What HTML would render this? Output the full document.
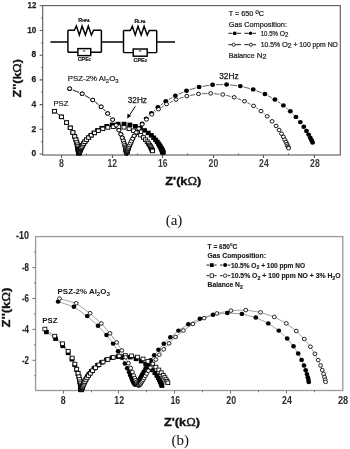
<!DOCTYPE html>
<html><head><meta charset="utf-8">
<style>
html,body{margin:0;padding:0;background:#fff;}
body{width:350px;height:449px;overflow:hidden;}
svg{display:block;will-change:transform;filter:blur(0.3px);}
text{font-family:"Liberation Sans",sans-serif;}
.ser{font-family:"Liberation Serif",serif;}
</style></head>
<body>
<svg width="350" height="449" viewBox="0 0 350 449">
<!-- ================= CHART A ================= -->
<g stroke="#5a5a5a" stroke-width="1.1" fill="none">
  <rect x="42.7" y="5.6" width="297.6" height="149.4"/>
  <path d="M39.6 154H42.8M39.6 129.3H42.8M39.6 104.6H42.8M39.6 79.9H42.8M39.6 55.2H42.8M39.6 30.5H42.8M39.6 5.8H42.8"/>
  <path d="M41.3 141.65H42.8M41.3 116.95H42.8M41.3 92.25H42.8M41.3 67.55H42.8M41.3 42.85H42.8M41.3 18.15H42.8"/>
  <path d="M61.5 155V158M112.5 155V158M162.5 155V158M213.5 155V158M263.5 155V158M314.5 155V158"/>
  <path d="M86.5 155V153.5M137.5 155V153.5M187.5 155V153.5M238.5 155V153.5M288.5 155V153.5"/>
</g>
<g font-size="9.7" font-weight="bold" fill="#222" stroke="#222" stroke-width="0.25" text-anchor="end">
  <text x="36.3" y="8.05" textLength="8.8" lengthAdjust="spacingAndGlyphs">12</text>
  <text x="36.3" y="32.75" textLength="9" lengthAdjust="spacingAndGlyphs">10</text>
  <text x="36.3" y="57.45" textLength="4.7" lengthAdjust="spacingAndGlyphs">8</text>
  <text x="36.3" y="82.15" textLength="4.7" lengthAdjust="spacingAndGlyphs">6</text>
  <text x="36.3" y="106.85" textLength="4.7" lengthAdjust="spacingAndGlyphs">4</text>
  <text x="36.3" y="131.55" textLength="4.7" lengthAdjust="spacingAndGlyphs">2</text>
  <text x="36.3" y="156.25" textLength="4.7" lengthAdjust="spacingAndGlyphs">0</text>
</g>
<g font-size="10" font-weight="bold" fill="#3a3a3a" text-anchor="middle">
  <text x="61.4" y="166.9" textLength="4.9" lengthAdjust="spacingAndGlyphs">8</text>
  <text x="112.2" y="166.9" textLength="9.6" lengthAdjust="spacingAndGlyphs">12</text>
  <text x="162.8" y="166.9" textLength="9.6" lengthAdjust="spacingAndGlyphs">16</text>
  <text x="213.4" y="166.9" textLength="9.6" lengthAdjust="spacingAndGlyphs">20</text>
  <text x="263.9" y="166.9" textLength="9.6" lengthAdjust="spacingAndGlyphs">24</text>
  <text x="314.9" y="166.9" textLength="9.6" lengthAdjust="spacingAndGlyphs">28</text>
</g>
<text x="165.3" y="184.6" font-size="11.2" font-weight="bold" fill="#111" stroke="#111" stroke-width="0.35" textLength="36" lengthAdjust="spacingAndGlyphs">Z'(k<tspan font-weight="normal">Ω</tspan>)</text>
<text transform="translate(20.7,97.4) rotate(-90)" font-size="11.8" font-weight="bold" fill="#111" stroke="#111" stroke-width="0.35" textLength="38.3" lengthAdjust="spacingAndGlyphs">Z''(k<tspan font-weight="normal">Ω</tspan>)</text>
<text class="ser" x="174" y="225.2" font-size="15" text-anchor="middle" fill="#111">(a)</text>

<!-- legend a -->
<g font-size="7.2" fill="#1a1a1a" stroke="#1a1a1a" stroke-width="0.22">
  <text x="228.7" y="15.9">T = 650 <tspan font-size="6.6" dy="-1.6">o</tspan><tspan dy="1.6">C</tspan></text>
  <text x="228.7" y="27" textLength="58.3" lengthAdjust="spacingAndGlyphs">Gas Composition:</text>
  <text x="260.7" y="36.2" textLength="27.6" lengthAdjust="spacingAndGlyphs">10.5% <tspan font-size="8">O</tspan><tspan dy="1.2">2</tspan></text>
  <text x="260.7" y="47" textLength="77.2" lengthAdjust="spacingAndGlyphs">10.5% <tspan font-size="8">O</tspan><tspan dy="1.2">2</tspan><tspan dy="-1.2"> + 100 ppm NO</tspan></text>
  <text x="228.7" y="57.6">Balance <tspan font-size="8">N</tspan><tspan dy="1.2">2</tspan></text>
</g>
<g stroke="#000" stroke-width="0.9" fill="none">
  <path d="M228.4 33.3H232.6M236.8 33.3H241M244.4 33.3H248.6M252.4 33.3H256M228.4 44.7H231.9M235.5 44.7H241M244.4 44.7H248.8M253 44.7H256"/>
</g>
<rect x="233.1" y="31.7" width="3.3" height="3.3" fill="#000"/>
<circle cx="250.5" cy="33.3" r="1.7" fill="#000"/>
<circle cx="233.7" cy="44.7" r="1.55" fill="#fff" stroke="#000" stroke-width="0.85"/>
<circle cx="250.9" cy="44.7" r="1.55" fill="#fff" stroke="#000" stroke-width="0.85"/>

<!-- circuit -->
<g stroke="#000" stroke-width="1.45" fill="none">
  <path d="M50.5 41.9H67.9M67.9 30.3V52.2M67.9 30.3H74.3L76.4 26L79.3 35L82.1 26L85.4 35L88.3 26L91.4 35L93.6 30.3H101.4M67.9 52.2H77.9M90.7 52.2H101.4M101.4 30.3V52.2"/>
  <rect x="77.9" y="48.6" width="12.8" height="7"/>
  <path d="M101.4 41.9H123.5M123.5 30.5V52.6M123.5 30.5H130.3L132.3 26.2L135.2 35L138 26.2L141.2 35L144.1 26.2L147.2 35L149.3 30.5H156.7M123.5 52.6H133.2M147.2 52.6H156.7M156.7 30.5V52.6M156.7 41.9H175"/>
  <rect x="133.2" y="49" width="14" height="7.2"/>
</g>
<g font-size="4" font-weight="bold" fill="#111" text-anchor="middle">
  <text x="84.3" y="51.6">n</text>
  <text x="140.2" y="52.2">n</text>
</g>
<g font-size="5.4" font-weight="bold" fill="#111" stroke="#111" stroke-width="0.2" text-anchor="middle">
  <text x="84" y="22">R<tspan font-size="3.8">HFA</tspan></text>
  <text x="140" y="23">R<tspan font-size="3.8">LFA</tspan></text>
  <text x="84.3" y="61.4">CPE<tspan font-size="3.8">1</tspan></text>
  <text x="140.2" y="62.1">CPE<tspan font-size="3.8">2</tspan></text>
</g>

<!-- annotations a -->
<g font-size="7.7" fill="#111" stroke="#111" stroke-width="0.15">
  <text x="67.8" y="81.4" textLength="50.8" lengthAdjust="spacingAndGlyphs">PSZ-2% Al<tspan font-size="5.8" dy="1.8">2</tspan><tspan dy="-1.8">O</tspan><tspan font-size="5.8" dy="1.8">3</tspan></text>
  <text x="53.4" y="105.9">PSZ</text>
</g>
<g font-size="8.2" fill="#111" stroke="#111" stroke-width="0.25">
  <text x="127.8" y="103.4" textLength="19.1" lengthAdjust="spacingAndGlyphs">32Hz</text>
  <text x="219.2" y="78.6" textLength="19.4" lengthAdjust="spacingAndGlyphs">32Hz</text>
</g>
<path d="M135.4 106.3L128.8 116.2" stroke="#000" stroke-width="1"/>
<path d="M127.2 118.5L127.5 113.6L131.1 116Z" fill="#000"/>

<!-- ================= CHART B ================= -->
<g stroke="#9a9a9a" stroke-width="1.3" fill="none">
  <rect x="35.6" y="236.6" width="307.2" height="153.9"/>
</g>
<g stroke="#707070" stroke-width="1" fill="none">
  <path d="M32.5 267.6H35.5M32.5 298.5H35.5M32.5 329.4H35.5M32.5 360.3H35.5"/>
  <path d="M34 252.15H35.5M34 283.05H35.5M34 313.95H35.5M34 344.85H35.5M34 375.75H35.5"/>
  <path d="M63.5 390.6V393.6M118.5 390.6V393.6M174.5 390.6V393.6M230.5 390.6V393.6M286.5 390.6V393.6"/>
  <path d="M91.5 390.6V392.3M146.5 390.6V392.3M202.5 390.6V392.3M258.5 390.6V392.3M314.5 390.6V392.3"/>
</g>
<g font-size="10" font-weight="bold" fill="#222" stroke="#222" stroke-width="0.1" text-anchor="end">
  <text x="29" y="239.4" textLength="12.9" lengthAdjust="spacingAndGlyphs">-10</text>
  <text x="29" y="270.9" textLength="7" lengthAdjust="spacingAndGlyphs">-8</text>
  <text x="29" y="301.8" textLength="7" lengthAdjust="spacingAndGlyphs">-6</text>
  <text x="29" y="332.7" textLength="7" lengthAdjust="spacingAndGlyphs">-4</text>
  <text x="29" y="363.6" textLength="7" lengthAdjust="spacingAndGlyphs">-2</text>
</g>
<g font-size="10" font-weight="bold" fill="#2a2a2a" text-anchor="middle">
  <text x="63.1" y="404" textLength="4.9" lengthAdjust="spacingAndGlyphs">8</text>
  <text x="119.2" y="404" textLength="9.8" lengthAdjust="spacingAndGlyphs">12</text>
  <text x="175.3" y="404" textLength="9.8" lengthAdjust="spacingAndGlyphs">16</text>
  <text x="231.2" y="404" textLength="9.8" lengthAdjust="spacingAndGlyphs">20</text>
  <text x="287" y="404" textLength="9.8" lengthAdjust="spacingAndGlyphs">24</text>
  <text x="343.1" y="404" textLength="10.2" lengthAdjust="spacingAndGlyphs">28</text>
</g>
<text x="164" y="426.4" font-size="11.2" font-weight="bold" fill="#111" stroke="#111" stroke-width="0.35" textLength="36" lengthAdjust="spacingAndGlyphs">Z'(k<tspan font-weight="normal">Ω</tspan>)</text>
<text transform="translate(10.4,327.4) rotate(-90)" font-size="11.2" font-weight="bold" fill="#111" stroke="#111" stroke-width="0.35" textLength="39.8" lengthAdjust="spacingAndGlyphs">Z''(k<tspan font-weight="normal">Ω</tspan>)</text>
<text class="ser" x="180.3" y="444.5" font-size="15" text-anchor="middle" fill="#111">(b)</text>

<!-- legend b -->
<g font-size="7.4" font-weight="bold" fill="#1a1a1a" stroke="#1a1a1a" stroke-width="0.15" lengthAdjust="spacingAndGlyphs">
  <text x="207.6" y="249.3" textLength="29.7" lengthAdjust="spacingAndGlyphs">T = 650°C</text>
  <text x="207.6" y="258.1" textLength="58.3" lengthAdjust="spacingAndGlyphs">Gas Composition:</text>
  <text x="230.9" y="267.7" textLength="74.2" lengthAdjust="spacingAndGlyphs">10.5%  O<tspan font-size="5.8" dy="1.3">2</tspan><tspan dy="-1.3"> + 100 ppm NO</tspan></text>
  <text x="230.9" y="278.3" textLength="109.7" lengthAdjust="spacingAndGlyphs">10.5%  O<tspan font-size="5.8" dy="1.3">2</tspan><tspan dy="-1.3"> + 100 ppm NO + 3%  H</tspan><tspan font-size="5.8" dy="1.3">2</tspan><tspan dy="-1.3">O</tspan></text>
  <text x="207.6" y="287.3" textLength="35.3" lengthAdjust="spacingAndGlyphs">Balance N<tspan font-size="5.8" dy="1.3">2</tspan></text>
</g>
<g stroke="#000" stroke-width="0.9" fill="none">
  <path d="M206.5 265.1H209.4M214.2 265.1H216.6M220 265.1H222.6M227.6 265.1H230.3M206.5 275.7H209.4M214.2 275.7H216.6M220 275.7H222.6M227.6 275.7H230.3"/>
</g>
<rect x="209.9" y="263.2" width="3.8" height="3.8" fill="#000"/>
<circle cx="225.1" cy="265.1" r="2" fill="#000"/>
<rect x="210.1" y="273.9" width="3.4" height="3.4" fill="#fff" stroke="#000" stroke-width="0.75"/>
<circle cx="225.1" cy="275.7" r="1.75" fill="#fff" stroke="#000" stroke-width="0.75"/>

<g font-size="7.9" font-weight="bold" fill="#111">
  <text x="57.6" y="293.6" textLength="52.3" lengthAdjust="spacingAndGlyphs">PSZ-2% Al<tspan font-size="6.2" dy="2.2">2</tspan><tspan dy="-2.2">O</tspan><tspan font-size="6.2" dy="2.2">3</tspan></text>
  <text x="42.2" y="323.4">PSZ</text>
</g>

<!-- ================= DATA ================= -->
<path d="M57.1 113.3L58.8 114.7M63.7 119.4L64.3 120.0" fill="none" stroke="#3a3a3a" stroke-width="0.8"/>
<path d="M57.1 113.3L58.8 114.7M63.7 119.4L64.3 120.1" fill="none" stroke="#3a3a3a" stroke-width="0.8"/>
<path d="M72.8 90.0L79.0 92.5M85.1 95.5L89.7 98.3M95.3 102.1L98.4 104.6M103.5 109.1L105.3 111.0M109.8 116.0L110.5 116.9M148.5 116.1L149.1 115.6M153.9 110.8L155.3 109.5M160.6 105.2L163.1 103.3M168.8 99.6L172.5 97.4M178.5 94.3L183.4 92.1M189.8 89.7L195.8 87.9M202.4 86.4L209.3 85.3M216.0 84.7L223.2 84.6M230.0 84.9L237.0 85.7M243.6 86.9L249.9 88.6M256.4 90.6L261.7 92.8M267.8 95.6L271.9 97.9M277.7 101.4L280.6 103.4M286.0 107.6L287.7 109.1M292.7 113.7L293.5 114.5" fill="none" stroke="#3a3a3a" stroke-width="0.8"/>
<path d="M72.8 89.9L79.0 92.4M85.1 95.4L89.8 98.2M95.4 102.1L98.5 104.6M103.5 109.2L105.3 111.0M109.8 116.1L110.5 117.0M154.5 112.3L155.8 111.3M161.4 107.4L163.7 105.9M169.6 102.7L172.9 101.1M179.2 98.6L183.5 97.2M190.1 95.5L195.2 94.6M201.9 93.8L207.3 93.5M214.1 93.7L219.4 94.2M226.1 95.3L230.9 96.5M237.4 98.5L241.4 100.0M247.5 102.8L250.5 104.3M256.3 107.8L258.2 109.2M263.6 113.3L264.6 114.1" fill="none" stroke="#3a3a3a" stroke-width="0.8"/>
<g fill="#000"><rect x="52.0" y="109.0" width="4.9" height="4.4"/><rect x="58.9" y="114.7" width="4.9" height="4.4"/><rect x="64.1" y="120.4" width="4.9" height="4.4"/><rect x="67.8" y="125.6" width="4.9" height="4.4"/><rect x="70.4" y="130.3" width="4.9" height="4.4"/><rect x="72.2" y="134.2" width="4.9" height="4.4"/><rect x="73.4" y="137.5" width="4.9" height="4.4"/><rect x="74.3" y="140.2" width="4.9" height="4.4"/><rect x="74.8" y="142.5" width="4.9" height="4.4"/><rect x="75.2" y="144.3" width="4.9" height="4.4"/><rect x="75.5" y="145.7" width="4.9" height="4.4"/><rect x="75.7" y="146.9" width="4.9" height="4.4"/><rect x="75.8" y="147.8" width="4.9" height="4.4"/><rect x="75.9" y="148.6" width="4.9" height="4.4"/><rect x="76.0" y="149.1" width="4.9" height="4.4"/><rect x="76.1" y="149.6" width="4.9" height="4.4"/><rect x="76.1" y="150.0" width="4.9" height="4.4"/><rect x="76.2" y="150.2" width="4.9" height="4.4"/><rect x="76.2" y="150.4" width="4.9" height="4.4"/><rect x="76.2" y="150.6" width="4.9" height="4.4"/><rect x="76.3" y="150.6" width="4.9" height="4.4"/><rect x="76.3" y="150.7" width="4.9" height="4.4"/><rect x="76.4" y="150.7" width="4.9" height="4.4"/><rect x="76.4" y="150.6" width="4.9" height="4.4"/><rect x="76.5" y="150.5" width="4.9" height="4.4"/><rect x="76.6" y="150.3" width="4.9" height="4.4"/><rect x="76.7" y="150.1" width="4.9" height="4.4"/><rect x="76.8" y="149.9" width="4.9" height="4.4"/><rect x="76.9" y="149.5" width="4.9" height="4.4"/><rect x="77.1" y="149.1" width="4.9" height="4.4"/><rect x="77.3" y="148.7" width="4.9" height="4.4"/><rect x="77.6" y="148.1" width="4.9" height="4.4"/><rect x="77.9" y="147.4" width="4.9" height="4.4"/><rect x="78.3" y="146.5" width="4.9" height="4.4"/><rect x="78.8" y="145.6" width="4.9" height="4.4"/><rect x="79.4" y="144.4" width="4.9" height="4.4"/><rect x="80.2" y="143.1" width="4.9" height="4.4"/><rect x="81.2" y="141.5" width="4.9" height="4.4"/><rect x="82.4" y="139.7" width="4.9" height="4.4"/><rect x="84.0" y="137.7" width="4.9" height="4.4"/><rect x="86.0" y="135.5" width="4.9" height="4.4"/><rect x="88.4" y="133.2" width="4.9" height="4.4"/><rect x="91.5" y="130.7" width="4.9" height="4.4"/><rect x="95.1" y="128.2" width="4.9" height="4.4"/><rect x="99.4" y="125.9" width="4.9" height="4.4"/><rect x="104.3" y="124.0" width="4.9" height="4.4"/><rect x="109.8" y="122.6" width="4.9" height="4.4"/><rect x="115.6" y="121.8" width="4.9" height="4.4"/><rect x="121.6" y="121.8" width="4.9" height="4.4"/><rect x="127.4" y="122.6" width="4.9" height="4.4"/><rect x="132.9" y="124.0" width="4.9" height="4.4"/><rect x="137.8" y="125.9" width="4.9" height="4.4"/><rect x="142.1" y="128.2" width="4.9" height="4.4"/><rect x="145.8" y="130.7" width="4.9" height="4.4"/><rect x="148.8" y="133.1" width="4.9" height="4.4"/><rect x="151.2" y="135.5" width="4.9" height="4.4"/><rect x="153.2" y="137.7" width="4.9" height="4.4"/><rect x="154.8" y="139.7" width="4.9" height="4.4"/><rect x="156.1" y="141.5" width="4.9" height="4.4"/><rect x="157.0" y="143.1" width="4.9" height="4.4"/><rect x="157.8" y="144.4" width="4.9" height="4.4"/><rect x="158.5" y="145.6" width="4.9" height="4.4"/><rect x="159.0" y="146.6" width="4.9" height="4.4"/><rect x="159.4" y="147.4" width="4.9" height="4.4"/><rect x="159.7" y="148.1" width="4.9" height="4.4"/><rect x="159.9" y="148.7" width="4.9" height="4.4"/><rect x="160.1" y="149.2" width="4.9" height="4.4"/><rect x="160.3" y="149.7" width="4.9" height="4.4"/><rect x="160.5" y="150.0" width="4.9" height="4.4"/><rect x="160.6" y="150.3" width="4.9" height="4.4"/></g>
<g fill="#000"><ellipse cx="69.6" cy="88.7" rx="2.45" ry="2.20"/><ellipse cx="82.1" cy="93.8" rx="2.45" ry="2.20"/><ellipse cx="92.7" cy="100.0" rx="2.45" ry="2.20"/><ellipse cx="101.1" cy="106.7" rx="2.45" ry="2.20"/><ellipse cx="107.6" cy="113.4" rx="2.45" ry="2.20"/><ellipse cx="112.6" cy="119.6" rx="2.45" ry="2.20"/><ellipse cx="116.2" cy="125.2" rx="2.45" ry="2.20"/><ellipse cx="118.9" cy="130.0" rx="2.45" ry="2.20"/><ellipse cx="120.9" cy="134.2" rx="2.45" ry="2.20"/><ellipse cx="122.4" cy="137.7" rx="2.45" ry="2.20"/><ellipse cx="123.4" cy="140.6" rx="2.45" ry="2.20"/><ellipse cx="124.2" cy="143.1" rx="2.45" ry="2.20"/><ellipse cx="124.8" cy="145.1" rx="2.45" ry="2.20"/><ellipse cx="125.2" cy="146.7" rx="2.45" ry="2.20"/><ellipse cx="125.6" cy="148.0" rx="2.45" ry="2.20"/><ellipse cx="125.8" cy="149.1" rx="2.45" ry="2.20"/><ellipse cx="126.0" cy="150.0" rx="2.45" ry="2.20"/><ellipse cx="126.2" cy="150.7" rx="2.45" ry="2.20"/><ellipse cx="126.3" cy="151.3" rx="2.45" ry="2.20"/><ellipse cx="126.4" cy="151.8" rx="2.45" ry="2.20"/><ellipse cx="126.5" cy="152.2" rx="2.45" ry="2.20"/><ellipse cx="126.5" cy="152.5" rx="2.45" ry="2.20"/><ellipse cx="126.6" cy="152.7" rx="2.45" ry="2.20"/><ellipse cx="126.6" cy="152.9" rx="2.45" ry="2.20"/><ellipse cx="126.7" cy="153.0" rx="2.45" ry="2.20"/><ellipse cx="126.7" cy="153.1" rx="2.45" ry="2.20"/><ellipse cx="126.8" cy="153.1" rx="2.45" ry="2.20"/><ellipse cx="126.8" cy="153.1" rx="2.45" ry="2.20"/><ellipse cx="126.8" cy="153.1" rx="2.45" ry="2.20"/><ellipse cx="126.9" cy="153.1" rx="2.45" ry="2.20"/><ellipse cx="126.9" cy="153.0" rx="2.45" ry="2.20"/><ellipse cx="127.0" cy="152.9" rx="2.45" ry="2.20"/><ellipse cx="127.1" cy="152.7" rx="2.45" ry="2.20"/><ellipse cx="127.1" cy="152.5" rx="2.45" ry="2.20"/><ellipse cx="127.2" cy="152.2" rx="2.45" ry="2.20"/><ellipse cx="127.3" cy="151.9" rx="2.45" ry="2.20"/><ellipse cx="127.5" cy="151.5" rx="2.45" ry="2.20"/><ellipse cx="127.7" cy="151.0" rx="2.45" ry="2.20"/><ellipse cx="127.9" cy="150.4" rx="2.45" ry="2.20"/><ellipse cx="128.1" cy="149.7" rx="2.45" ry="2.20"/><ellipse cx="128.4" cy="148.8" rx="2.45" ry="2.20"/><ellipse cx="128.8" cy="147.7" rx="2.45" ry="2.20"/><ellipse cx="129.3" cy="146.5" rx="2.45" ry="2.20"/><ellipse cx="129.9" cy="145.0" rx="2.45" ry="2.20"/><ellipse cx="130.7" cy="143.2" rx="2.45" ry="2.20"/><ellipse cx="131.6" cy="141.1" rx="2.45" ry="2.20"/><ellipse cx="132.9" cy="138.5" rx="2.45" ry="2.20"/><ellipse cx="134.4" cy="135.6" rx="2.45" ry="2.20"/><ellipse cx="136.4" cy="132.1" rx="2.45" ry="2.20"/><ellipse cx="138.9" cy="128.2" rx="2.45" ry="2.20"/><ellipse cx="142.1" cy="123.7" rx="2.45" ry="2.20"/><ellipse cx="146.2" cy="118.6" rx="2.45" ry="2.20"/><ellipse cx="151.4" cy="113.1" rx="2.45" ry="2.20"/><ellipse cx="157.9" cy="107.2" rx="2.45" ry="2.20"/><ellipse cx="165.8" cy="101.3" rx="2.45" ry="2.20"/><ellipse cx="175.4" cy="95.7" rx="2.45" ry="2.20"/><ellipse cx="186.5" cy="90.7" rx="2.45" ry="2.20"/><ellipse cx="199.1" cy="87.0" rx="2.45" ry="2.20"/><ellipse cx="212.6" cy="84.8" rx="2.45" ry="2.20"/><ellipse cx="226.6" cy="84.5" rx="2.45" ry="2.20"/><ellipse cx="240.3" cy="86.1" rx="2.45" ry="2.20"/><ellipse cx="253.2" cy="89.4" rx="2.45" ry="2.20"/><ellipse cx="264.9" cy="94.0" rx="2.45" ry="2.20"/><ellipse cx="274.9" cy="99.5" rx="2.45" ry="2.20"/><ellipse cx="283.4" cy="105.4" rx="2.45" ry="2.20"/><ellipse cx="290.3" cy="111.3" rx="2.45" ry="2.20"/><ellipse cx="295.9" cy="116.9" rx="2.45" ry="2.20"/><ellipse cx="300.3" cy="122.1" rx="2.45" ry="2.20"/><ellipse cx="303.8" cy="126.8" rx="2.45" ry="2.20"/><ellipse cx="306.5" cy="131.0" rx="2.45" ry="2.20"/><ellipse cx="308.6" cy="134.6" rx="2.45" ry="2.20"/><ellipse cx="310.3" cy="137.7" rx="2.45" ry="2.20"/><ellipse cx="311.6" cy="140.3" rx="2.45" ry="2.20"/><ellipse cx="312.6" cy="142.6" rx="2.45" ry="2.20"/></g>
<g fill="#fff" stroke="#000" stroke-width="0.9"><rect x="52.4" y="109.4" width="4.0" height="3.5"/><rect x="59.4" y="115.1" width="4.0" height="3.5"/><rect x="64.6" y="120.8" width="4.0" height="3.5"/><rect x="68.3" y="126.1" width="4.0" height="3.5"/><rect x="70.9" y="130.7" width="4.0" height="3.5"/><rect x="72.7" y="134.7" width="4.0" height="3.5"/><rect x="73.9" y="138.0" width="4.0" height="3.5"/><rect x="74.7" y="140.7" width="4.0" height="3.5"/><rect x="75.3" y="142.9" width="4.0" height="3.5"/><rect x="75.7" y="144.7" width="4.0" height="3.5"/><rect x="76.0" y="146.2" width="4.0" height="3.5"/><rect x="76.2" y="147.4" width="4.0" height="3.5"/><rect x="76.3" y="148.3" width="4.0" height="3.5"/><rect x="76.4" y="149.0" width="4.0" height="3.5"/><rect x="76.5" y="149.6" width="4.0" height="3.5"/><rect x="76.5" y="150.1" width="4.0" height="3.5"/><rect x="76.6" y="150.5" width="4.0" height="3.5"/><rect x="76.6" y="150.7" width="4.0" height="3.5"/><rect x="76.7" y="151.0" width="4.0" height="3.5"/><rect x="76.7" y="151.1" width="4.0" height="3.5"/><rect x="76.7" y="151.2" width="4.0" height="3.5"/><rect x="76.8" y="151.2" width="4.0" height="3.5"/><rect x="76.8" y="151.3" width="4.0" height="3.5"/><rect x="76.8" y="151.2" width="4.0" height="3.5"/><rect x="76.9" y="151.2" width="4.0" height="3.5"/><rect x="76.9" y="151.0" width="4.0" height="3.5"/><rect x="77.0" y="150.9" width="4.0" height="3.5"/><rect x="77.1" y="150.7" width="4.0" height="3.5"/><rect x="77.2" y="150.4" width="4.0" height="3.5"/><rect x="77.3" y="150.1" width="4.0" height="3.5"/><rect x="77.5" y="149.7" width="4.0" height="3.5"/><rect x="77.7" y="149.2" width="4.0" height="3.5"/><rect x="77.9" y="148.6" width="4.0" height="3.5"/><rect x="78.3" y="147.9" width="4.0" height="3.5"/><rect x="78.6" y="147.0" width="4.0" height="3.5"/><rect x="79.1" y="146.0" width="4.0" height="3.5"/><rect x="79.8" y="144.8" width="4.0" height="3.5"/><rect x="80.6" y="143.4" width="4.0" height="3.5"/><rect x="81.6" y="141.8" width="4.0" height="3.5"/><rect x="82.9" y="140.0" width="4.0" height="3.5"/><rect x="84.6" y="138.0" width="4.0" height="3.5"/><rect x="86.7" y="135.8" width="4.0" height="3.5"/><rect x="89.3" y="133.5" width="4.0" height="3.5"/><rect x="92.5" y="131.2" width="4.0" height="3.5"/><rect x="96.3" y="129.0" width="4.0" height="3.5"/><rect x="100.8" y="127.1" width="4.0" height="3.5"/><rect x="105.8" y="125.7" width="4.0" height="3.5"/><rect x="111.2" y="125.0" width="4.0" height="3.5"/><rect x="116.7" y="124.9" width="4.0" height="3.5"/><rect x="122.0" y="125.6" width="4.0" height="3.5"/><rect x="127.1" y="127.0" width="4.0" height="3.5"/><rect x="131.6" y="128.9" width="4.0" height="3.5"/><rect x="135.5" y="131.0" width="4.0" height="3.5"/><rect x="138.7" y="133.4" width="4.0" height="3.5"/><rect x="141.4" y="135.7" width="4.0" height="3.5"/><rect x="143.5" y="137.9" width="4.0" height="3.5"/><rect x="145.2" y="139.9" width="4.0" height="3.5"/><rect x="146.5" y="141.7" width="4.0" height="3.5"/><rect x="147.6" y="143.3" width="4.0" height="3.5"/><rect x="148.4" y="144.7" width="4.0" height="3.5"/><rect x="149.0" y="145.9" width="4.0" height="3.5"/><rect x="149.6" y="147.0" width="4.0" height="3.5"/><rect x="150.0" y="147.8" width="4.0" height="3.5"/><rect x="150.3" y="148.6" width="4.0" height="3.5"/><rect x="150.5" y="149.2" width="4.0" height="3.5"/></g>
<g fill="#fff" stroke="#000" stroke-width="0.9"><ellipse cx="69.6" cy="88.6" rx="2.00" ry="1.75"/><ellipse cx="82.2" cy="93.7" rx="2.00" ry="1.75"/><ellipse cx="92.7" cy="100.0" rx="2.00" ry="1.75"/><ellipse cx="101.2" cy="106.8" rx="2.00" ry="1.75"/><ellipse cx="107.7" cy="113.5" rx="2.00" ry="1.75"/><ellipse cx="112.6" cy="119.7" rx="2.00" ry="1.75"/><ellipse cx="116.2" cy="125.3" rx="2.00" ry="1.75"/><ellipse cx="118.9" cy="130.2" rx="2.00" ry="1.75"/><ellipse cx="120.8" cy="134.3" rx="2.00" ry="1.75"/><ellipse cx="122.2" cy="137.8" rx="2.00" ry="1.75"/><ellipse cx="123.3" cy="140.8" rx="2.00" ry="1.75"/><ellipse cx="124.0" cy="143.2" rx="2.00" ry="1.75"/><ellipse cx="124.6" cy="145.2" rx="2.00" ry="1.75"/><ellipse cx="125.0" cy="146.8" rx="2.00" ry="1.75"/><ellipse cx="125.3" cy="148.1" rx="2.00" ry="1.75"/><ellipse cx="125.6" cy="149.2" rx="2.00" ry="1.75"/><ellipse cx="125.8" cy="150.1" rx="2.00" ry="1.75"/><ellipse cx="125.9" cy="150.8" rx="2.00" ry="1.75"/><ellipse cx="126.0" cy="151.4" rx="2.00" ry="1.75"/><ellipse cx="126.1" cy="151.8" rx="2.00" ry="1.75"/><ellipse cx="126.2" cy="152.2" rx="2.00" ry="1.75"/><ellipse cx="126.3" cy="152.5" rx="2.00" ry="1.75"/><ellipse cx="126.3" cy="152.7" rx="2.00" ry="1.75"/><ellipse cx="126.4" cy="152.9" rx="2.00" ry="1.75"/><ellipse cx="126.4" cy="153.1" rx="2.00" ry="1.75"/><ellipse cx="126.4" cy="153.2" rx="2.00" ry="1.75"/><ellipse cx="126.5" cy="153.2" rx="2.00" ry="1.75"/><ellipse cx="126.5" cy="153.2" rx="2.00" ry="1.75"/><ellipse cx="126.5" cy="153.2" rx="2.00" ry="1.75"/><ellipse cx="126.6" cy="153.2" rx="2.00" ry="1.75"/><ellipse cx="126.6" cy="153.1" rx="2.00" ry="1.75"/><ellipse cx="126.6" cy="153.0" rx="2.00" ry="1.75"/><ellipse cx="126.7" cy="152.9" rx="2.00" ry="1.75"/><ellipse cx="126.8" cy="152.7" rx="2.00" ry="1.75"/><ellipse cx="126.8" cy="152.5" rx="2.00" ry="1.75"/><ellipse cx="126.9" cy="152.3" rx="2.00" ry="1.75"/><ellipse cx="127.0" cy="151.9" rx="2.00" ry="1.75"/><ellipse cx="127.2" cy="151.5" rx="2.00" ry="1.75"/><ellipse cx="127.3" cy="151.0" rx="2.00" ry="1.75"/><ellipse cx="127.5" cy="150.4" rx="2.00" ry="1.75"/><ellipse cx="127.8" cy="149.7" rx="2.00" ry="1.75"/><ellipse cx="128.1" cy="148.9" rx="2.00" ry="1.75"/><ellipse cx="128.5" cy="147.8" rx="2.00" ry="1.75"/><ellipse cx="129.0" cy="146.6" rx="2.00" ry="1.75"/><ellipse cx="129.6" cy="145.1" rx="2.00" ry="1.75"/><ellipse cx="130.4" cy="143.3" rx="2.00" ry="1.75"/><ellipse cx="131.3" cy="141.2" rx="2.00" ry="1.75"/><ellipse cx="132.6" cy="138.7" rx="2.00" ry="1.75"/><ellipse cx="134.2" cy="135.8" rx="2.00" ry="1.75"/><ellipse cx="136.2" cy="132.4" rx="2.00" ry="1.75"/><ellipse cx="138.8" cy="128.6" rx="2.00" ry="1.75"/><ellipse cx="142.2" cy="124.3" rx="2.00" ry="1.75"/><ellipse cx="146.5" cy="119.5" rx="2.00" ry="1.75"/><ellipse cx="151.8" cy="114.4" rx="2.00" ry="1.75"/><ellipse cx="158.5" cy="109.2" rx="2.00" ry="1.75"/><ellipse cx="166.5" cy="104.1" rx="2.00" ry="1.75"/><ellipse cx="176.0" cy="99.6" rx="2.00" ry="1.75"/><ellipse cx="186.8" cy="96.1" rx="2.00" ry="1.75"/><ellipse cx="198.5" cy="93.9" rx="2.00" ry="1.75"/><ellipse cx="210.7" cy="93.4" rx="2.00" ry="1.75"/><ellipse cx="222.8" cy="94.5" rx="2.00" ry="1.75"/><ellipse cx="234.2" cy="97.3" rx="2.00" ry="1.75"/><ellipse cx="244.5" cy="101.2" rx="2.00" ry="1.75"/><ellipse cx="253.5" cy="105.9" rx="2.00" ry="1.75"/><ellipse cx="261.0" cy="111.1" rx="2.00" ry="1.75"/><ellipse cx="267.2" cy="116.3" rx="2.00" ry="1.75"/><ellipse cx="272.1" cy="121.3" rx="2.00" ry="1.75"/><ellipse cx="276.1" cy="125.9" rx="2.00" ry="1.75"/><ellipse cx="279.1" cy="130.0" rx="2.00" ry="1.75"/><ellipse cx="281.5" cy="133.7" rx="2.00" ry="1.75"/><ellipse cx="283.4" cy="136.9" rx="2.00" ry="1.75"/><ellipse cx="284.8" cy="139.7" rx="2.00" ry="1.75"/><ellipse cx="286.0" cy="142.0" rx="2.00" ry="1.75"/><ellipse cx="286.9" cy="144.0" rx="2.00" ry="1.75"/><ellipse cx="287.6" cy="145.7" rx="2.00" ry="1.75"/><ellipse cx="288.2" cy="147.1" rx="2.00" ry="1.75"/><ellipse cx="288.6" cy="148.2" rx="2.00" ry="1.75"/></g>
<polyline points="46.3,332.0 55.6,338.7 62.8,345.9 68.1,352.9 72.0,359.3 74.7,364.9 76.6,369.7 77.9,373.7 78.9,377.0 79.5,379.7 80.0,381.9 80.3,383.7 80.5,385.1 80.7,386.2 80.8,387.2 80.9,387.9 81.0,388.5 81.0,388.9 81.1,389.3 81.1,389.5 81.2,389.7 81.2,389.8 81.3,389.9 81.3,389.9 81.4,389.8 81.4,389.7 81.5,389.5 81.6,389.3 81.7,389.0 81.8,388.6 81.9,388.2 82.1,387.6 82.4,386.9 82.7,386.0 83.1,385.0 83.6,383.8 84.2,382.4 85.0,380.7 86.0,378.8 87.4,376.5 89.1,374.0 91.3,371.3 94.0,368.3 97.4,365.3 101.6,362.4 106.4,359.8 111.9,357.8 117.9,356.7 124.2,356.5 130.3,357.2 136.1,358.9 141.2,361.2 145.7,364.0 149.4,367.0 152.4,370.0 154.8,372.9 156.7,375.5 158.2,377.9 159.4,379.9 160.3,381.7 161.0,383.3 161.5,384.6 161.9,385.7" fill="none" stroke="#8a8a8a" stroke-width="0.8"/>
<polyline points="44.8,329.0 54.8,336.0 62.4,343.7 68.1,351.2 72.1,358.0 74.9,364.0 76.8,369.0 78.1,373.2 78.9,376.7 79.5,379.5 79.9,381.8 80.2,383.6 80.4,385.1 80.6,386.2 80.7,387.2 80.8,387.9 80.8,388.5 80.9,388.9 80.9,389.2 81.0,389.5 81.0,389.6 81.1,389.7 81.1,389.7 81.2,389.7 81.2,389.6 81.3,389.5 81.4,389.3 81.5,389.0 81.7,388.7 81.8,388.2 82.0,387.7 82.3,387.1 82.6,386.3 83.0,385.4 83.5,384.3 84.1,383.1 84.8,381.6 85.8,379.9 87.0,377.9 88.5,375.7 90.3,373.2 92.6,370.5 95.5,367.7 98.9,364.8 103.1,362.0 107.8,359.4 113.2,357.4 119.1,356.0 125.3,355.5 131.5,355.8 137.5,357.0 143.0,358.9 148.0,361.4 152.2,364.1 155.8,367.0 158.8,369.9 161.3,372.6 163.2,375.2 164.8,377.4 166.0,379.5 167.0,381.2 167.8,382.8" fill="none" stroke="#8a8a8a" stroke-width="0.8"/>
<polyline points="58.1,301.6 73.9,306.8 87.2,316.1 98.0,325.7 106.5,335.0 113.1,343.6 118.1,351.2 122.0,357.8 124.9,363.5 127.2,368.2 129.0,372.1 130.3,375.3 131.4,377.9 132.3,379.9 133.0,381.5 133.6,382.8 134.2,383.6 134.7,384.2 135.1,384.5 135.6,384.6 136.0,384.4 136.5,384.0 137.0,383.4 137.6,382.6 138.2,381.5 139.0,380.2 139.9,378.6 141.0,376.6 142.2,374.3 143.8,371.5 145.6,368.3 147.9,364.6 150.7,360.3 154.2,355.3 158.5,349.8 163.8,343.8 170.4,337.3 178.5,330.6 188.3,324.3 199.9,318.7 213.0,314.8 227.3,313.0 241.9,313.9 255.8,317.5 268.3,323.4 278.8,330.6 287.2,338.5 293.5,346.3 298.2,353.5 301.6,359.9 304.0,365.5 305.7,370.2 306.9,374.1 307.8,377.3 308.4,379.9 308.8,382.1" fill="none" stroke="#8a8a8a" stroke-width="0.8"/>
<polyline points="59.5,298.6 76.2,303.3 90.1,313.2 101.3,323.5 110.0,333.3 116.7,342.4 121.8,350.4 125.6,357.3 128.5,363.2 130.7,368.1 132.4,372.1 133.7,375.4 134.8,378.1 135.6,380.2 136.3,381.9 136.8,383.2 137.3,384.2 137.7,384.8 138.2,385.2 138.6,385.4 139.0,385.4 139.4,385.2 139.9,384.8 140.4,384.2 140.9,383.4 141.5,382.4 142.3,381.2 143.1,379.8 144.1,378.1 145.3,376.0 146.7,373.6 148.4,370.8 150.4,367.6 152.8,363.8 155.8,359.6 159.3,354.7 163.7,349.3 169.0,343.4 175.5,337.0 183.4,330.5 192.9,324.0 204.1,318.1 216.9,313.4 231.0,310.6 245.8,310.1 260.5,312.3 274.3,316.9 286.3,323.4 296.3,331.0 304.3,339.0 310.4,346.7 314.9,353.8 318.2,360.1 320.6,365.5 322.3,370.1 323.6,373.9 324.5,377.1 325.1,379.7 325.6,381.9" fill="none" stroke="#8a8a8a" stroke-width="0.8"/>
<g fill="#000"><rect x="44.0" y="329.8" width="4.7" height="4.4"/><rect x="53.2" y="336.5" width="4.7" height="4.4"/><rect x="60.4" y="343.7" width="4.7" height="4.4"/><rect x="65.8" y="350.7" width="4.7" height="4.4"/><rect x="69.6" y="357.1" width="4.7" height="4.4"/><rect x="72.4" y="362.7" width="4.7" height="4.4"/><rect x="74.3" y="367.5" width="4.7" height="4.4"/><rect x="75.6" y="371.5" width="4.7" height="4.4"/><rect x="76.5" y="374.8" width="4.7" height="4.4"/><rect x="77.2" y="377.5" width="4.7" height="4.4"/><rect x="77.6" y="379.7" width="4.7" height="4.4"/><rect x="77.9" y="381.5" width="4.7" height="4.4"/><rect x="78.2" y="382.9" width="4.7" height="4.4"/><rect x="78.3" y="384.0" width="4.7" height="4.4"/><rect x="78.5" y="385.0" width="4.7" height="4.4"/><rect x="78.5" y="385.7" width="4.7" height="4.4"/><rect x="78.6" y="386.3" width="4.7" height="4.4"/><rect x="78.7" y="386.7" width="4.7" height="4.4"/><rect x="78.7" y="387.1" width="4.7" height="4.4"/><rect x="78.8" y="387.3" width="4.7" height="4.4"/><rect x="78.8" y="387.5" width="4.7" height="4.4"/><rect x="78.9" y="387.6" width="4.7" height="4.4"/><rect x="78.9" y="387.7" width="4.7" height="4.4"/><rect x="78.9" y="387.7" width="4.7" height="4.4"/><rect x="79.0" y="387.6" width="4.7" height="4.4"/><rect x="79.1" y="387.5" width="4.7" height="4.4"/><rect x="79.1" y="387.3" width="4.7" height="4.4"/><rect x="79.2" y="387.1" width="4.7" height="4.4"/><rect x="79.3" y="386.8" width="4.7" height="4.4"/><rect x="79.4" y="386.4" width="4.7" height="4.4"/><rect x="79.6" y="386.0" width="4.7" height="4.4"/><rect x="79.8" y="385.4" width="4.7" height="4.4"/><rect x="80.0" y="384.7" width="4.7" height="4.4"/><rect x="80.3" y="383.8" width="4.7" height="4.4"/><rect x="80.7" y="382.8" width="4.7" height="4.4"/><rect x="81.2" y="381.6" width="4.7" height="4.4"/><rect x="81.8" y="380.2" width="4.7" height="4.4"/><rect x="82.6" y="378.5" width="4.7" height="4.4"/><rect x="83.7" y="376.6" width="4.7" height="4.4"/><rect x="85.0" y="374.3" width="4.7" height="4.4"/><rect x="86.7" y="371.8" width="4.7" height="4.4"/><rect x="88.9" y="369.1" width="4.7" height="4.4"/><rect x="91.7" y="366.1" width="4.7" height="4.4"/><rect x="95.1" y="363.1" width="4.7" height="4.4"/><rect x="99.2" y="360.2" width="4.7" height="4.4"/><rect x="104.1" y="357.6" width="4.7" height="4.4"/><rect x="109.6" y="355.6" width="4.7" height="4.4"/><rect x="115.6" y="354.5" width="4.7" height="4.4"/><rect x="121.8" y="354.3" width="4.7" height="4.4"/><rect x="127.9" y="355.0" width="4.7" height="4.4"/><rect x="133.7" y="356.7" width="4.7" height="4.4"/><rect x="138.9" y="359.0" width="4.7" height="4.4"/><rect x="143.3" y="361.8" width="4.7" height="4.4"/><rect x="147.1" y="364.8" width="4.7" height="4.4"/><rect x="150.1" y="367.8" width="4.7" height="4.4"/><rect x="152.5" y="370.7" width="4.7" height="4.4"/><rect x="154.4" y="373.3" width="4.7" height="4.4"/><rect x="155.9" y="375.7" width="4.7" height="4.4"/><rect x="157.0" y="377.7" width="4.7" height="4.4"/><rect x="157.9" y="379.5" width="4.7" height="4.4"/><rect x="158.6" y="381.1" width="4.7" height="4.4"/><rect x="159.2" y="382.4" width="4.7" height="4.4"/><rect x="159.6" y="383.5" width="4.7" height="4.4"/></g>
<g fill="#000"><ellipse cx="58.1" cy="301.6" rx="2.35" ry="2.20"/><ellipse cx="73.9" cy="306.8" rx="2.35" ry="2.20"/><ellipse cx="87.2" cy="316.1" rx="2.35" ry="2.20"/><ellipse cx="98.0" cy="325.7" rx="2.35" ry="2.20"/><ellipse cx="106.5" cy="335.0" rx="2.35" ry="2.20"/><ellipse cx="113.1" cy="343.6" rx="2.35" ry="2.20"/><ellipse cx="118.1" cy="351.2" rx="2.35" ry="2.20"/><ellipse cx="122.0" cy="357.8" rx="2.35" ry="2.20"/><ellipse cx="124.9" cy="363.5" rx="2.35" ry="2.20"/><ellipse cx="127.2" cy="368.2" rx="2.35" ry="2.20"/><ellipse cx="129.0" cy="372.1" rx="2.35" ry="2.20"/><ellipse cx="130.3" cy="375.3" rx="2.35" ry="2.20"/><ellipse cx="131.4" cy="377.9" rx="2.35" ry="2.20"/><ellipse cx="132.3" cy="379.9" rx="2.35" ry="2.20"/><ellipse cx="133.0" cy="381.5" rx="2.35" ry="2.20"/><ellipse cx="133.6" cy="382.8" rx="2.35" ry="2.20"/><ellipse cx="134.2" cy="383.6" rx="2.35" ry="2.20"/><ellipse cx="134.7" cy="384.2" rx="2.35" ry="2.20"/><ellipse cx="135.1" cy="384.5" rx="2.35" ry="2.20"/><ellipse cx="135.6" cy="384.6" rx="2.35" ry="2.20"/><ellipse cx="136.0" cy="384.4" rx="2.35" ry="2.20"/><ellipse cx="136.5" cy="384.0" rx="2.35" ry="2.20"/><ellipse cx="137.0" cy="383.4" rx="2.35" ry="2.20"/><ellipse cx="137.6" cy="382.6" rx="2.35" ry="2.20"/><ellipse cx="138.2" cy="381.5" rx="2.35" ry="2.20"/><ellipse cx="139.0" cy="380.2" rx="2.35" ry="2.20"/><ellipse cx="139.9" cy="378.6" rx="2.35" ry="2.20"/><ellipse cx="141.0" cy="376.6" rx="2.35" ry="2.20"/><ellipse cx="142.2" cy="374.3" rx="2.35" ry="2.20"/><ellipse cx="143.8" cy="371.5" rx="2.35" ry="2.20"/><ellipse cx="145.6" cy="368.3" rx="2.35" ry="2.20"/><ellipse cx="147.9" cy="364.6" rx="2.35" ry="2.20"/><ellipse cx="150.7" cy="360.3" rx="2.35" ry="2.20"/><ellipse cx="154.2" cy="355.3" rx="2.35" ry="2.20"/><ellipse cx="158.5" cy="349.8" rx="2.35" ry="2.20"/><ellipse cx="163.8" cy="343.8" rx="2.35" ry="2.20"/><ellipse cx="170.4" cy="337.3" rx="2.35" ry="2.20"/><ellipse cx="178.5" cy="330.6" rx="2.35" ry="2.20"/><ellipse cx="188.3" cy="324.3" rx="2.35" ry="2.20"/><ellipse cx="199.9" cy="318.7" rx="2.35" ry="2.20"/><ellipse cx="213.0" cy="314.8" rx="2.35" ry="2.20"/><ellipse cx="227.3" cy="313.0" rx="2.35" ry="2.20"/><ellipse cx="241.9" cy="313.9" rx="2.35" ry="2.20"/><ellipse cx="255.8" cy="317.5" rx="2.35" ry="2.20"/><ellipse cx="268.3" cy="323.4" rx="2.35" ry="2.20"/><ellipse cx="278.8" cy="330.6" rx="2.35" ry="2.20"/><ellipse cx="287.2" cy="338.5" rx="2.35" ry="2.20"/><ellipse cx="293.5" cy="346.3" rx="2.35" ry="2.20"/><ellipse cx="298.2" cy="353.5" rx="2.35" ry="2.20"/><ellipse cx="301.6" cy="359.9" rx="2.35" ry="2.20"/><ellipse cx="304.0" cy="365.5" rx="2.35" ry="2.20"/><ellipse cx="305.7" cy="370.2" rx="2.35" ry="2.20"/><ellipse cx="306.9" cy="374.1" rx="2.35" ry="2.20"/><ellipse cx="307.8" cy="377.3" rx="2.35" ry="2.20"/><ellipse cx="308.4" cy="379.9" rx="2.35" ry="2.20"/><ellipse cx="308.8" cy="382.1" rx="2.35" ry="2.20"/></g>
<g fill="#fff" stroke="#000" stroke-width="0.85"><rect x="42.9" y="327.2" width="3.9" height="3.6"/><rect x="52.8" y="334.3" width="3.9" height="3.6"/><rect x="60.5" y="341.9" width="3.9" height="3.6"/><rect x="66.2" y="349.4" width="3.9" height="3.6"/><rect x="70.2" y="356.2" width="3.9" height="3.6"/><rect x="72.9" y="362.2" width="3.9" height="3.6"/><rect x="74.8" y="367.3" width="3.9" height="3.6"/><rect x="76.1" y="371.5" width="3.9" height="3.6"/><rect x="77.0" y="374.9" width="3.9" height="3.6"/><rect x="77.6" y="377.7" width="3.9" height="3.6"/><rect x="78.0" y="380.0" width="3.9" height="3.6"/><rect x="78.3" y="381.8" width="3.9" height="3.6"/><rect x="78.5" y="383.3" width="3.9" height="3.6"/><rect x="78.6" y="384.5" width="3.9" height="3.6"/><rect x="78.8" y="385.4" width="3.9" height="3.6"/><rect x="78.8" y="386.1" width="3.9" height="3.6"/><rect x="78.9" y="386.7" width="3.9" height="3.6"/><rect x="79.0" y="387.1" width="3.9" height="3.6"/><rect x="79.0" y="387.4" width="3.9" height="3.6"/><rect x="79.0" y="387.7" width="3.9" height="3.6"/><rect x="79.1" y="387.8" width="3.9" height="3.6"/><rect x="79.1" y="387.9" width="3.9" height="3.6"/><rect x="79.2" y="388.0" width="3.9" height="3.6"/><rect x="79.2" y="387.9" width="3.9" height="3.6"/><rect x="79.3" y="387.9" width="3.9" height="3.6"/><rect x="79.4" y="387.7" width="3.9" height="3.6"/><rect x="79.5" y="387.5" width="3.9" height="3.6"/><rect x="79.6" y="387.2" width="3.9" height="3.6"/><rect x="79.7" y="386.9" width="3.9" height="3.6"/><rect x="79.9" y="386.5" width="3.9" height="3.6"/><rect x="80.1" y="385.9" width="3.9" height="3.6"/><rect x="80.4" y="385.3" width="3.9" height="3.6"/><rect x="80.7" y="384.5" width="3.9" height="3.6"/><rect x="81.1" y="383.6" width="3.9" height="3.6"/><rect x="81.6" y="382.5" width="3.9" height="3.6"/><rect x="82.2" y="381.3" width="3.9" height="3.6"/><rect x="82.9" y="379.8" width="3.9" height="3.6"/><rect x="83.9" y="378.1" width="3.9" height="3.6"/><rect x="85.0" y="376.1" width="3.9" height="3.6"/><rect x="86.5" y="373.9" width="3.9" height="3.6"/><rect x="88.4" y="371.5" width="3.9" height="3.6"/><rect x="90.7" y="368.8" width="3.9" height="3.6"/><rect x="93.5" y="365.9" width="3.9" height="3.6"/><rect x="97.0" y="363.0" width="3.9" height="3.6"/><rect x="101.1" y="360.2" width="3.9" height="3.6"/><rect x="105.9" y="357.7" width="3.9" height="3.6"/><rect x="111.3" y="355.6" width="3.9" height="3.6"/><rect x="117.2" y="354.2" width="3.9" height="3.6"/><rect x="123.4" y="353.7" width="3.9" height="3.6"/><rect x="129.6" y="354.0" width="3.9" height="3.6"/><rect x="135.5" y="355.2" width="3.9" height="3.6"/><rect x="141.1" y="357.1" width="3.9" height="3.6"/><rect x="146.0" y="359.6" width="3.9" height="3.6"/><rect x="150.3" y="362.4" width="3.9" height="3.6"/><rect x="153.9" y="365.3" width="3.9" height="3.6"/><rect x="156.9" y="368.1" width="3.9" height="3.6"/><rect x="159.3" y="370.9" width="3.9" height="3.6"/><rect x="161.3" y="373.4" width="3.9" height="3.6"/><rect x="162.9" y="375.7" width="3.9" height="3.6"/><rect x="164.1" y="377.7" width="3.9" height="3.6"/><rect x="165.1" y="379.5" width="3.9" height="3.6"/><rect x="165.9" y="381.0" width="3.9" height="3.6"/></g>
<g fill="#fff" stroke="#000" stroke-width="0.85"><ellipse cx="59.5" cy="298.6" rx="1.93" ry="1.78"/><ellipse cx="76.2" cy="303.3" rx="1.93" ry="1.78"/><ellipse cx="90.1" cy="313.2" rx="1.93" ry="1.78"/><ellipse cx="101.3" cy="323.5" rx="1.93" ry="1.78"/><ellipse cx="110.0" cy="333.3" rx="1.93" ry="1.78"/><ellipse cx="116.7" cy="342.4" rx="1.93" ry="1.78"/><ellipse cx="121.8" cy="350.4" rx="1.93" ry="1.78"/><ellipse cx="125.6" cy="357.3" rx="1.93" ry="1.78"/><ellipse cx="128.5" cy="363.2" rx="1.93" ry="1.78"/><ellipse cx="130.7" cy="368.1" rx="1.93" ry="1.78"/><ellipse cx="132.4" cy="372.1" rx="1.93" ry="1.78"/><ellipse cx="133.7" cy="375.4" rx="1.93" ry="1.78"/><ellipse cx="134.8" cy="378.1" rx="1.93" ry="1.78"/><ellipse cx="135.6" cy="380.2" rx="1.93" ry="1.78"/><ellipse cx="136.3" cy="381.9" rx="1.93" ry="1.78"/><ellipse cx="136.8" cy="383.2" rx="1.93" ry="1.78"/><ellipse cx="137.3" cy="384.2" rx="1.93" ry="1.78"/><ellipse cx="137.7" cy="384.8" rx="1.93" ry="1.78"/><ellipse cx="138.2" cy="385.2" rx="1.93" ry="1.78"/><ellipse cx="138.6" cy="385.4" rx="1.93" ry="1.78"/><ellipse cx="139.0" cy="385.4" rx="1.93" ry="1.78"/><ellipse cx="139.4" cy="385.2" rx="1.93" ry="1.78"/><ellipse cx="139.9" cy="384.8" rx="1.93" ry="1.78"/><ellipse cx="140.4" cy="384.2" rx="1.93" ry="1.78"/><ellipse cx="140.9" cy="383.4" rx="1.93" ry="1.78"/><ellipse cx="141.5" cy="382.4" rx="1.93" ry="1.78"/><ellipse cx="142.3" cy="381.2" rx="1.93" ry="1.78"/><ellipse cx="143.1" cy="379.8" rx="1.93" ry="1.78"/><ellipse cx="144.1" cy="378.1" rx="1.93" ry="1.78"/><ellipse cx="145.3" cy="376.0" rx="1.93" ry="1.78"/><ellipse cx="146.7" cy="373.6" rx="1.93" ry="1.78"/><ellipse cx="148.4" cy="370.8" rx="1.93" ry="1.78"/><ellipse cx="150.4" cy="367.6" rx="1.93" ry="1.78"/><ellipse cx="152.8" cy="363.8" rx="1.93" ry="1.78"/><ellipse cx="155.8" cy="359.6" rx="1.93" ry="1.78"/><ellipse cx="159.3" cy="354.7" rx="1.93" ry="1.78"/><ellipse cx="163.7" cy="349.3" rx="1.93" ry="1.78"/><ellipse cx="169.0" cy="343.4" rx="1.93" ry="1.78"/><ellipse cx="175.5" cy="337.0" rx="1.93" ry="1.78"/><ellipse cx="183.4" cy="330.5" rx="1.93" ry="1.78"/><ellipse cx="192.9" cy="324.0" rx="1.93" ry="1.78"/><ellipse cx="204.1" cy="318.1" rx="1.93" ry="1.78"/><ellipse cx="216.9" cy="313.4" rx="1.93" ry="1.78"/><ellipse cx="231.0" cy="310.6" rx="1.93" ry="1.78"/><ellipse cx="245.8" cy="310.1" rx="1.93" ry="1.78"/><ellipse cx="260.5" cy="312.3" rx="1.93" ry="1.78"/><ellipse cx="274.3" cy="316.9" rx="1.93" ry="1.78"/><ellipse cx="286.3" cy="323.4" rx="1.93" ry="1.78"/><ellipse cx="296.3" cy="331.0" rx="1.93" ry="1.78"/><ellipse cx="304.3" cy="339.0" rx="1.93" ry="1.78"/><ellipse cx="310.4" cy="346.7" rx="1.93" ry="1.78"/><ellipse cx="314.9" cy="353.8" rx="1.93" ry="1.78"/><ellipse cx="318.2" cy="360.1" rx="1.93" ry="1.78"/><ellipse cx="320.6" cy="365.5" rx="1.93" ry="1.78"/><ellipse cx="322.3" cy="370.1" rx="1.93" ry="1.78"/><ellipse cx="323.6" cy="373.9" rx="1.93" ry="1.78"/><ellipse cx="324.5" cy="377.1" rx="1.93" ry="1.78"/><ellipse cx="325.1" cy="379.7" rx="1.93" ry="1.78"/><ellipse cx="325.6" cy="381.9" rx="1.93" ry="1.78"/></g>
</svg>
</body></html>
